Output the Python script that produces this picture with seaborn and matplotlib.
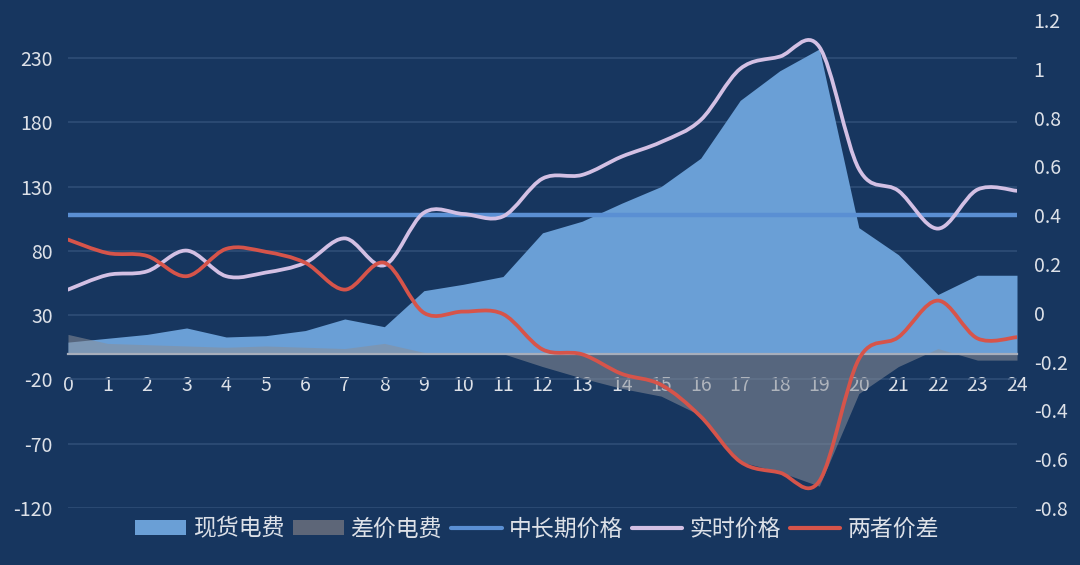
import numpy as np
import pandas as pd
import seaborn as sns
import matplotlib
matplotlib.use("Agg")
from matplotlib import pyplot as plt
from matplotlib.path import Path
from matplotlib.patches import PathPatch, Patch
from matplotlib.lines import Line2D

# hourly data
hours = list(range(25))
spot_fee = [9, 12, 15, 20, 13, 14, 18, 27, 21, 49, 54, 60, 94, 103, 117, 130,
            152, 197, 220, 237, 98, 77, 46, 61, 61]
diff_fee = [15, 8, 7, 6, 5, 6, 5, 4, 8, 1, 0, 0, -10, -19, -27, -33,
            -48, -84, -92, -103, -31, -10, 4, -5, -5]
long_term_price = [0.4] * 25
realtime_price = [0.095, 0.155, 0.17, 0.255, 0.15, 0.165, 0.205, 0.305, 0.195,
                  0.41, 0.405, 0.395, 0.55, 0.565, 0.64, 0.70, 0.79, 1.0, 1.05,
                  1.09, 0.59, 0.50, 0.345, 0.505, 0.50]
price_gap = [0.30, 0.245, 0.233, 0.15, 0.262, 0.25, 0.205, 0.095, 0.205, 0.0,
             0.005, -0.005, -0.15, -0.17, -0.25, -0.295, -0.425, -0.61, -0.655,
             -0.69, -0.19, -0.10, 0.05, -0.105, -0.10]
left_ticks = [-120, -70, -20, 30, 80, 130, 180, 230]
right_ticks = [-0.8, -0.6, -0.4, -0.2, 0, 0.2, 0.4, 0.6, 0.8, 1, 1.2]
right_labels = ["-0.8", "-0.6", "-0.4", "-0.2", "0", "0.2", "0.4", "0.6", "0.8", "1", "1.2"]
legend_names = ["现货电费", "差价电费", "中长期价格", "实时价格", "两者价差"]

navy = "#17365f"
grid_col = "#2e4d77"
text_col = "#dde1e8"
blue_area = "#6a9fd6"
gray_area = "#8a8f99"
long_col = "#5a8fd3"
lav_col = "#d3c0e4"
red_col = "#d6544a"

sns.set_theme(style="white")
plt.rcParams["font.family"] = ["Noto Sans CJK SC", "DejaVu Sans"]
plt.rcParams["axes.unicode_minus"] = False


def smooth_path(xs, ys):
    # excel-like smoothed line: catmull-rom segments as cubic beziers
    pts = np.column_stack([xs, ys]).astype(float)
    n = len(pts)
    verts = [pts[0]]
    codes = [Path.MOVETO]
    for i in range(n - 1):
        p0 = pts[max(i - 1, 0)]
        p1 = pts[i]
        p2 = pts[i + 1]
        p3 = pts[min(i + 2, n - 1)]
        verts += [p1 + (p2 - p0) / 6, p2 - (p3 - p1) / 6, p2]
        codes += [Path.CURVE4] * 3
    return Path(verts, codes)


fig = plt.figure(figsize=(10.8, 5.65), dpi=100, facecolor=navy)
ax = fig.add_axes([68 / 1080, 1 - 508 / 565, (1017 - 68) / 1080, (508 - 20) / 565])
ax.set_facecolor(navy)

# areas on the left axis
ax.fill_between(hours, spot_fee, 0, color=blue_area, lw=0, zorder=1)
ax.fill_between(hours, diff_fee, 0, color=gray_area, alpha=0.55, lw=0, zorder=1.2)

ax.set_xlim(0, 24)
ax.set_ylim(-120, 259.5)
ax.set_yticks(left_ticks)
ax.set_xticks(hours)
ax.set_axisbelow(True)
ax.yaxis.grid(True, color=grid_col, lw=1.2)
ax.xaxis.grid(False)
for side in ["top", "left", "right"]:
    ax.spines[side].set_visible(False)
ax.spines["bottom"].set_position(("data", 0))
ax.spines["bottom"].set_color("#a7aebb")
ax.spines["bottom"].set_linewidth(1.6)
ax.tick_params(axis="x", length=0, pad=15.5, labelsize=14, labelcolor=text_col)
ax.tick_params(axis="y", length=0, pad=11, labelsize=14, labelcolor=text_col)

# lines on the right axis
ax2 = ax.twinx()
ax2.set_ylim(-0.8, 1.2)
df_long = pd.DataFrame({"hour": hours, "price": long_term_price})
sns.lineplot(data=df_long, x="hour", y="price", ax=ax2, color=long_col, lw=3.2,
             zorder=2)
ax2.add_patch(PathPatch(smooth_path(hours, realtime_price), fill=False,
                        edgecolor=lav_col, lw=2.7, zorder=3,
                        capstyle="round", joinstyle="round"))
ax2.add_patch(PathPatch(smooth_path(hours, price_gap), fill=False,
                        edgecolor=red_col, lw=2.7, zorder=4,
                        capstyle="round", joinstyle="round"))
ax2.set_yticks(right_ticks, right_labels)
ax2.set_ylabel("")
ax2.set_xlabel("")
ax.set_xlabel("")
for side in ["top", "left", "right", "bottom"]:
    ax2.spines[side].set_visible(False)
ax2.tick_params(axis="y", length=0, pad=12, labelsize=14, labelcolor=text_col)
ax2.grid(False)

handles = [
    Patch(facecolor=blue_area, edgecolor="none"),
    Patch(facecolor="#5d6678", edgecolor="none"),
    Line2D([], [], color=long_col, lw=3),
    Line2D([], [], color=lav_col, lw=3),
    Line2D([], [], color=red_col, lw=3),
]
fig.legend(handles, legend_names, loc="center", bbox_to_anchor=(537 / 1080, 1 - 529 / 565),
           ncol=5, frameon=False, fontsize=16.5, labelcolor=text_col,
           handlelength=2.2, handleheight=0.65, handletextpad=0.3, columnspacing=0.4)

fig.savefig("out.png", dpi=100, facecolor=navy)
